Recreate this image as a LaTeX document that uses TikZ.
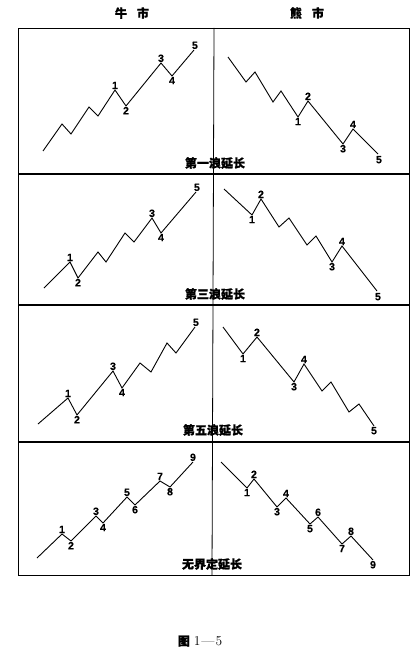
\documentclass[tikz,border=0pt]{standalone}
\usepackage{fontspec}
\usetikzlibrary{positioning}
\setsansfont{Liberation Sans}[FakeBold=0.3]
\newfontfamily\cjk{Noto Sans CJK SC}[FakeBold=1.0]
\begin{document}
\begin{tikzpicture}[x=1pt,y=-1pt,
  wave/.style={line width=0.9pt,line join=miter},
  frame/.style={line width=0.8pt},
  rowline/.style={line width=1.3pt},
  lab/.style={font=\sffamily\bfseries\fontsize{10.5}{10.5}\selectfont,inner sep=0.8pt},
  captext/.style={font=\cjk\bfseries\fontsize{12}{12}\selectfont,inner sep=1pt},
  head/.style={font=\cjk\bfseries\fontsize{12}{12}\selectfont,inner sep=1pt}]
\useasboundingbox (0,0) rectangle (418,658);
% frame
\draw[frame] (18,28) rectangle (409,575);
\draw[frame] (214,28) -- (212,575);
\draw[rowline] (18,174) -- (409,174);
\draw[rowline] (18,305) -- (409,305);
\draw[rowline] (18,442) -- (409,442);
% headers
\node[head] (h1) at (132,13) {牛\hspace{10pt}市};
\node[head] (h2) at (307,13) {熊\hspace{10pt}市};
% ---------- Row 1 ----------
\foreach \n/\x/\y in {1/43/151,2/62/124,3/71/134,4/89/107,5/98/116,6/115/90,7/126/106,8/161/63,9/172/76,10/194/50}
  \coordinate (A\n) at (\x,\y);
\draw[wave] (A1) \foreach \i in {2,...,10}{ -- (A\i)};
\node[lab,above] at (A6) {1};
\node[lab,below] at (A7) {2};
\node[lab,above] at (A8) {3};
\node[lab,below] at (A9) {4};
\node[lab,above right=0pt and -3pt] at (A10) {5};
\foreach \n/\x/\y in {1/228/57,2/246/82,3/255/72,4/273/102,5/281/91,6/298/117,7/308/101,8/343/144,9/353/129,10/378/154}
  \coordinate (B\n) at (\x,\y);
\draw[wave] (B1) \foreach \i in {2,...,10}{ -- (B\i)};
\node[lab,below] at (B6) {1};
\node[lab,above] at (B7) {2};
\node[lab,below] at (B8) {3};
\node[lab,above] at (B9) {4};
\node[lab,below right=1pt and -3pt] at (B10) {5};
\node[captext] (c1) at (215,163) {第一浪延长};
% ---------- Row 2 ----------
\foreach \n/\x/\y in {1/44/288,2/70/262,3/78/278,4/98/252,5/106/262,6/125/233,7/134/242,8/152/218,9/161/233,10/196/192}
  \coordinate (C\n) at (\x,\y);
\draw[wave] (C1) \foreach \i in {2,...,10}{ -- (C\i)};
\node[lab,above] at (C2) {1};
\node[lab,below] at (C3) {2};
\node[lab,above] at (C8) {3};
\node[lab,below] at (C9) {4};
\node[lab,above right=0pt and -3pt] at (C10) {5};
\foreach \n/\x/\y in {1/224/189,2/252/215,3/261/199,4/279/227,5/289/218,6/307/245,7/316/236,8/332/262,9/342/246,10/377/291}
  \coordinate (D\n) at (\x,\y);
\draw[wave] (D1) \foreach \i in {2,...,10}{ -- (D\i)};
\node[lab,below] at (D2) {1};
\node[lab,above] at (D3) {2};
\node[lab,below] at (D8) {3};
\node[lab,above] at (D9) {4};
\node[lab,below right=1pt and -3pt] at (D10) {5};
\node[captext] (c2) at (215,294) {第三浪延长};
% ---------- Row 3 ----------
\foreach \n/\x/\y in {1/38/424,2/68/398,3/77/415,4/113/371,5/122/388,6/140/363,7/151/372,8/167/343,9/176/353,10/195/327}
  \coordinate (E\n) at (\x,\y);
\draw[wave] (E1) \foreach \i in {2,...,10}{ -- (E\i)};
\node[lab,above] at (E2) {1};
\node[lab,below] at (E3) {2};
\node[lab,above] at (E4) {3};
\node[lab,below] at (E5) {4};
\node[lab,above right=0pt and -3pt] at (E10) {5};
\foreach \n/\x/\y in {1/223/327,2/243/354,3/257/337,4/294/382,5/304/364,6/322/391,7/331/382,8/349/412,9/359/404,10/374/426}
  \coordinate (F\n) at (\x,\y);
\draw[wave] (F1) \foreach \i in {2,...,10}{ -- (F\i)};
\node[lab,below] at (F2) {1};
\node[lab,above] at (F3) {2};
\node[lab,below] at (F4) {3};
\node[lab,above] at (F5) {4};
\node[lab,below] at (F10) {5};
\node[captext] (c3) at (213,430) {第五浪延长};
% ---------- Row 4 ----------
\foreach \n/\x/\y in {1/37/558,2/62/534,3/71/541,4/96/516,5/103/523,6/127/497,7/135/505,8/160/481,9/170/487,10/193/462}
  \coordinate (G\n) at (\x,\y);
\draw[wave] (G1) \foreach \i in {2,...,10}{ -- (G\i)};
\node[lab,above] at (G2) {1};
\node[lab,below] at (G3) {2};
\node[lab,above] at (G4) {3};
\node[lab,below] at (G5) {4};
\node[lab,above] at (G6) {5};
\node[lab,below] at (G7) {6};
\node[lab,above] at (G8) {7};
\node[lab,below] at (G9) {8};
\node[lab,above] at (G10) {9};
\foreach \n/\x/\y in {1/221/462,2/247/488,3/254/479,4/277/507,5/286/498,6/310/524,7/318/517,8/342/544,9/351/536,10/373/560}
  \coordinate (H\n) at (\x,\y);
\draw[wave] (H1) \foreach \i in {2,...,10}{ -- (H\i)};
\node[lab,below] at (H2) {1};
\node[lab,above] at (H3) {2};
\node[lab,below] at (H4) {3};
\node[lab,above] at (H5) {4};
\node[lab,below] at (H6) {5};
\node[lab,above] at (H7) {6};
\node[lab,below] at (H8) {7};
\node[lab,above] at (H9) {8};
\node[lab,below] at (H10) {9};
\node[captext] (c4) at (212,564) {无界定延长};
% figure caption
\node[inner sep=1pt,font=\fontsize{13.5}{13.5}\selectfont] (fig) at (200,641) {{\cjk\bfseries\fontsize{12}{12}\selectfont 图}\hspace{4pt}1\kern1pt---\kern1pt5};
\end{tikzpicture}
\end{document}
